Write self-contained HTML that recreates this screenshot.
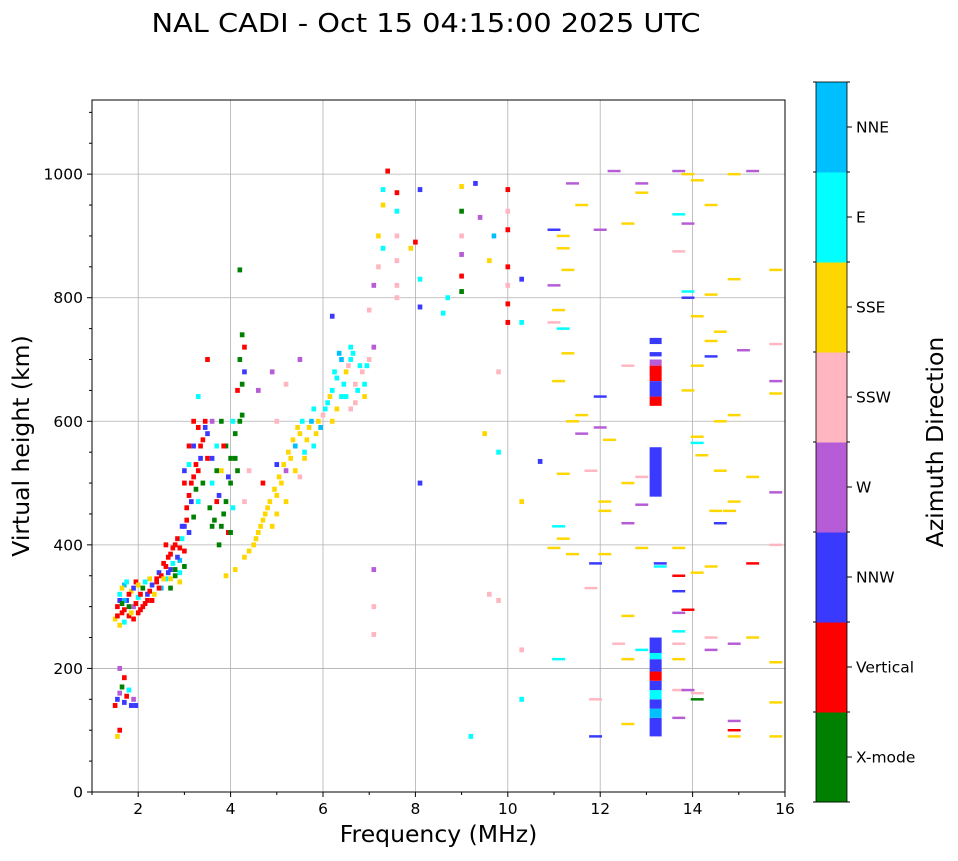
<!DOCTYPE html>
<html><head><meta charset="utf-8">
<style>
body{margin:0;background:#fff;font-family:"DejaVu Sans","Liberation Sans",sans-serif;}
svg text{font-family:"DejaVu Sans","Liberation Sans",sans-serif;}
</style></head>
<body>
<svg id="chart" width="958" height="857" viewBox="0 0 958 857" xmlns="http://www.w3.org/2000/svg">
<text x="426" y="32" font-size="26" text-anchor="middle" textLength="549" lengthAdjust="spacingAndGlyphs">NAL CADI - Oct 15 04:15:00 2025 UTC</text>
<g id="grid"></g><g id="marks"></g><g id="axes"></g><g id="cbar"></g>
</svg>
<script>
const dirNames=["X-mode","Vertical","NNW","W","SSW","SSE","E","NNE"];
const dirColors=["#008000","#ff0000","#3a3aff","#b65cd6","#ffb6c1","#ffd700","#00ffff","#00bfff"];
const xTicks=[2,4,6,8,10,12,14,16];
const yTicks=[0,200,400,600,800,1000];
const pointFreq=[1.5,1.55,1.6,1.65,1.7,1.75,1.8,1.85,1.9,1.6,1.55,1.6,1.7,1.95,
1.5,1.55,1.6,1.65,1.7,1.75,1.8,1.85,1.9,1.95,2.0,2.05,2.1,2.15,2.2,2.25,2.3,1.6,1.7,1.8,
2.4,2.45,2.5,2.55,2.6,2.65,2.7,2.75,2.8,2.85,2.9,2.95,3.0,3.05,3.1,3.15,3.2,3.25,3.3,3.35,3.4,3.45,3.5,3.0,3.1,3.2,3.3,2.7,2.9,2.6,
3.6,3.7,3.75,3.8,3.85,3.9,3.95,4.0,4.05,4.1,4.15,4.2,4.25,4.3,4.2,4.25,4.3,3.6,3.5,
3.9,4.1,4.3,4.5,4.6,4.7,4.8,4.9,5.0,5.1,5.2,5.3,5.4,5.5,5.6,5.7,5.8,5.9,6.0,6.1,5.5,5.0,4.7,4.4,4.6,4.9,5.2,5.5,5.0,5.8,
6.2,6.3,6.4,6.5,6.6,6.7,6.8,6.9,7.0,7.1,6.4,6.6,6.2,6.9,6.2,7.0,7.1,7.2,7.3,7.2,7.3,7.4,7.3,7.1,7.1,7.1,
7.6,7.6,7.6,7.6,7.6,7.6,8.0,8.1,8.1,8.1,8.1,7.9,
9.0,9.0,9.0,9.0,9.0,9.0,8.6,8.7,9.3,9.4,9.7,9.6,10.0,10.0,10.0,10.0,10.0,10.0,10.0,10.3,10.3,9.8,9.8,9.5,9.8,9.6,9.2,10.3,10.3,10.3,10.7,
11.0,11.2,11.2,11.3,11.0,11.1,11.0,11.2,11.3,11.1,11.4,11.2,11.1,11.0,11.2,11.4,11.4,11.6,11.6,11.6,11.8,11.9,11.8,11.1,11.9,11.9,12.0,12.0,12.0,12.1,12.1,12.1,
12.3,12.2,12.4,12.6,12.6,12.6,12.6,12.6,12.6,12.6,12.9,12.9,12.9,12.9,12.9,12.9,13.3,13.3,13.7,13.7,13.7,13.7,13.7,13.7,13.7,13.7,13.7,13.7,13.7,13.7,13.9,13.9,13.9,13.9,13.9,13.9,13.9,
14.1,14.4,14.1,14.4,14.4,14.1,14.4,14.1,14.1,14.2,14.1,14.1,14.1,14.4,14.4,14.4,14.6,14.6,14.6,14.5,14.6,14.8,14.9,14.9,14.9,14.9,14.9,14.9,14.9,14.9,15.1,15.3,15.3,15.3,15.3,15.8,15.8,15.8,15.8,15.8,15.8,15.8,15.8,15.8,
1.55,1.6,1.65,1.7,1.75,1.8,1.85,1.9,1.95,2.0,2.05,2.1,2.15,2.2,2.25,2.3,2.35,2.4,2.0,1.7,1.9,1.65,2.45,2.5,
2.55,2.6,2.65,2.7,2.75,2.8,2.85,2.9,2.95,3.0,3.05,3.1,3.15,3.2,3.25,3.3,3.35,3.4,3.45,3.5,3.0,3.1,3.2,3.3,2.8,2.9,3.0,2.7,
3.55,3.6,3.65,3.7,3.75,3.8,3.85,3.9,3.95,4.0,4.05,4.1,4.15,4.2,4.25,4.3,4.0,3.8,3.7,3.6,
4.4,4.55,4.65,4.75,4.85,4.95,5.05,5.15,5.25,5.35,5.45,5.55,5.65,5.75,5.85,5.95,6.05,6.15,5.2,5.4,5.6,5.0,
6.25,6.35,6.45,6.55,6.65,6.75,6.85,6.95,6.3,6.5,6.7,6.6];
const pointHeight=[140,150,160,170,145,155,165,140,150,100,90,200,185,140,
280,300,320,290,335,310,285,325,300,340,315,295,330,305,320,345,310,270,275,300,
340,355,330,370,345,380,360,395,350,410,375,430,390,460,420,500,445,530,470,560,500,590,540,520,560,600,640,330,340,400,
430,470,400,520,450,560,420,500,600,540,650,700,740,680,845,610,470,600,700,
350,360,380,400,420,440,460,430,480,500,520,540,560,580,550,590,560,600,610,630,510,530,500,520,650,680,660,700,600,620,
650,670,700,680,720,660,690,640,700,720,640,620,600,660,770,780,820,850,880,900,950,1005,975,360,255,300,
820,860,900,940,970,800,890,975,830,785,500,880,
940,980,870,835,900,810,775,800,985,930,900,860,975,940,910,850,820,790,760,830,760,680,550,580,310,320,90,470,230,150,535,
910,900,880,845,820,780,760,750,710,665,600,515,430,395,410,385,985,950,610,580,520,370,330,215,150,90,910,640,590,470,455,385,
1005,570,240,920,690,500,435,285,215,110,985,970,510,465,395,230,370,365,1005,935,875,395,350,325,290,260,240,215,165,120,1000,920,810,800,650,295,165,
990,950,770,805,730,690,705,575,565,545,355,150,160,365,250,230,745,600,520,455,435,455,1000,830,610,470,240,115,90,100,715,1005,510,370,250,845,665,645,485,400,210,145,90,725,
285,310,330,295,340,320,290,330,305,335,320,300,340,310,325,335,320,345,290,310,280,305,330,350,
345,365,355,385,370,400,380,395,410,430,440,480,470,510,490,520,540,570,600,580,500,530,560,590,360,355,365,345,
460,500,440,520,480,430,560,470,510,540,460,580,520,600,660,720,420,600,560,540,
390,410,430,450,470,490,510,530,550,570,590,600,570,600,580,590,620,640,470,520,540,450,
680,710,660,690,710,650,680,690,620,640,630,700];
const pointDir=[1,2,3,0,2,1,6,2,3,1,5,3,1,2,
5,1,6,1,7,2,1,5,3,1,6,1,0,1,2,5,1,5,6,0,
1,2,7,1,6,1,2,1,0,1,7,2,1,1,2,1,0,1,6,1,0,2,1,2,1,1,6,0,5,1,
0,1,0,5,0,0,1,0,6,0,1,0,0,2,0,0,4,3,1,
5,5,5,5,5,5,5,5,5,5,3,5,7,5,6,5,6,5,4,6,4,2,1,4,3,3,4,3,4,6,
6,6,7,5,6,4,6,5,4,3,6,4,5,6,2,4,3,4,6,5,5,1,6,3,4,4,
4,4,4,6,1,4,1,2,6,2,2,5,
0,5,3,1,4,0,6,6,2,3,7,5,1,4,1,1,4,1,1,2,6,4,6,5,4,4,6,5,4,6,2,
2,5,5,5,3,5,4,6,5,5,5,5,6,5,5,5,3,5,5,3,4,2,4,6,4,2,3,2,3,5,5,5,
3,5,4,5,4,5,3,5,5,5,3,5,4,3,5,6,2,6,3,6,4,5,1,2,3,6,4,5,4,3,5,3,6,2,5,1,3,
5,5,5,5,5,5,2,5,6,5,5,0,4,5,4,3,5,5,5,5,2,5,5,5,5,5,3,3,5,1,3,3,5,1,5,5,3,5,3,4,5,5,5,4,
1,2,5,1,6,1,5,2,1,5,1,1,6,1,1,2,5,1,1,7,1,0,1,1,
5,1,2,1,6,1,2,1,6,2,1,1,2,1,0,1,2,1,1,2,1,6,2,1,0,6,0,5,
0,6,0,0,2,0,1,0,2,0,6,0,0,0,0,1,0,0,6,2,
5,5,5,5,5,5,5,5,5,5,5,6,5,7,5,7,6,5,5,5,5,5,
6,7,6,4,6,6,4,6,5,6,4,6];
const barFreq=[13.2,13.2,13.2,13.2,13.2,13.2,13.2,13.2,13.2,13.2,13.2,13.2,13.2,13.2,13.2,13.2];
const barLow=[725,705,690,665,640,625,478,90,120,135,150,165,180,195,215,225];
const barHigh=[735,712,700,690,665,640,558,120,135,150,165,180,195,215,225,250];
const barDir=[2,2,3,1,2,1,2,2,7,2,6,2,1,2,6,2];

const L=92,R=785,T=100,B=792,xmin=1,xmax=16,ymin=0,ymax=1120;
const X=f=>L+(f-xmin)/(xmax-xmin)*(R-L);
const Y=h=>B-(h-ymin)/(ymax-ymin)*(B-T);
const NS="http://www.w3.org/2000/svg";
function mk(tag,attrs,parent,txt){const e=document.createElementNS(NS,tag);for(const k in attrs)e.setAttribute(k,attrs[k]);if(txt!==undefined)e.textContent=txt;parent.appendChild(e);return e;}
const grid=document.getElementById('grid'),marks=document.getElementById('marks'),axes=document.getElementById('axes'),cbar=document.getElementById('cbar');
mk('rect',{x:L,y:T,width:R-L,height:B-T,fill:'#fff'},grid);
xTicks.forEach(v=>{const g=mk('line',{x1:X(v),x2:X(v),y1:T,y2:B,stroke:'#b0b0b0','stroke-width':0.8},grid);

});
yTicks.forEach(v=>{const g=mk('line',{x1:L,x2:R,y1:Y(v),y2:Y(v),stroke:'#b0b0b0','stroke-width':0.8},grid);

});
pointFreq.forEach((f,i)=>{const w=f>=11?0.28:0.1;const h=f>=11?4:8;
const r=mk('rect',{x:X(f-w/2),y:Y(pointHeight[i]+h/2),width:X(w)-X(0),height:Y(0)-Y(h),fill:dirColors[pointDir[i]]},marks);

});
barFreq.forEach((f,i)=>{const r=mk('rect',{x:X(f-0.13),y:Y(barHigh[i]),width:X(0.26)-X(0),height:Y(barLow[i])-Y(barHigh[i]),fill:dirColors[barDir[i]]},marks);

});
const fr=mk('rect',{x:L,y:T,width:R-L,height:B-T,fill:'none',stroke:'#000','stroke-width':1},axes);


xTicks.forEach(v=>{mk('line',{x1:X(v),x2:X(v),y1:B,y2:B+5,stroke:'#000'},axes);
const t=mk('text',{x:X(v),y:B+22,'font-size':15.5,'text-anchor':'middle'},axes,String(v));

});
for(let v=1;v<=15;v+=2)mk('line',{x1:X(v),x2:X(v),y1:B,y2:B+3,stroke:'#000'},axes);
yTicks.forEach(v=>{mk('line',{x1:L-5,x2:L,y1:Y(v),y2:Y(v),stroke:'#000'},axes);
const t=mk('text',{x:L-9,y:Y(v)+5.5,'font-size':15.5,'text-anchor':'end'},axes,String(v));

});
for(let v=50;v<=1100;v+=50)if(v%200)mk('line',{x1:L-3,x2:L,y1:Y(v),y2:Y(v),stroke:'#000'},axes);
const xt=mk('text',{x:(L+R)/2,y:842,'font-size':23.5,'text-anchor':'middle'},axes,'Frequency (MHz)');


const yt=mk('text',{x:29,y:446,'font-size':23.5,'text-anchor':'middle',transform:'rotate(-90 29 446)'},axes,'Virtual height (km)');


const cT=82,cB=802,cL=816,cW=31,seg=(cB-cT)/dirNames.length;
dirNames.forEach((n,i)=>{const y0=cB-(i+1)*seg;
const r=mk('rect',{x:cL,y:y0,width:cW,height:seg+0.5,fill:dirColors[i]},cbar);


mk('line',{x1:cL+cW,x2:cL+cW+5,y1:y0+seg/2,y2:y0+seg/2,stroke:'#000'},cbar);
const t=mk('text',{x:cL+cW+9,y:y0+seg/2+5.5,'font-size':15.5},cbar,n);

});
for(let i=0;i<=dirNames.length;i++){const y=cT+i*seg;mk('line',{x1:cL-3,x2:cL,y1:y,y2:y,stroke:'#000'},cbar);mk('line',{x1:cL+cW,x2:cL+cW+3,y1:y,y2:y,stroke:'#000'},cbar);}
mk('rect',{x:cL,y:cT,width:cW,height:cB-cT,fill:'none',stroke:'#000','stroke-width':0.8},cbar);
const ct=mk('text',{x:943,y:442,'font-size':23.5,'text-anchor':'middle',transform:'rotate(-90 943 442)'},cbar,'Azimuth Direction');


</script>
</body></html>
